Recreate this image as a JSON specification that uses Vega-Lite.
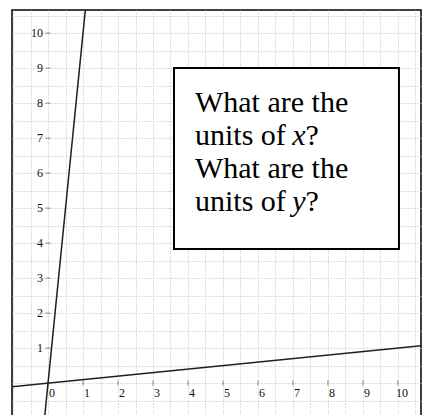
{
  "$schema": "https://vega.github.io/schema/vega-lite/v6.json",
  "width": 409,
  "height": 406,
  "autosize": {"type": "none"},
  "padding": {"left": 12, "top": 10, "right": 1, "bottom": 0},
  "config": {
    "view": {"stroke": "#000000", "strokeWidth": 1.5},
    "font": "Liberation Serif",
    "text": {"font": "Liberation Serif"}
  },
  "datasets": {
    "lines": [
      {"line": "steep", "x": -0.1, "y": -1},
      {"line": "steep", "x": 1.1, "y": 11},
      {"line": "shallow", "x": -1.1, "y": -0.11},
      {"line": "shallow", "x": 10.7, "y": 1.07}
    ],
    "xticks": [
      {"v": 0}, {"v": 1}, {"v": 2}, {"v": 3}, {"v": 4}, {"v": 5},
      {"v": 6}, {"v": 7}, {"v": 8}, {"v": 9}, {"v": 10}
    ],
    "yticks": [
      {"v": 1}, {"v": 2}, {"v": 3}, {"v": 4}, {"v": 5},
      {"v": 6}, {"v": 7}, {"v": 8}, {"v": 9}, {"v": 10}
    ],
    "note": [
      {"t": "What are the", "x": 4.2, "y": 7.74, "style": "normal"},
      {"t": "units of", "x": 4.2, "y": 6.8, "style": "normal"},
      {"t": "x", "x": 6.98, "y": 6.8, "style": "italic"},
      {"t": "?", "x": 7.36, "y": 6.8, "style": "normal"},
      {"t": "What are the", "x": 4.2, "y": 5.86, "style": "normal"},
      {"t": "units of", "x": 4.2, "y": 4.91, "style": "normal"},
      {"t": "y", "x": 6.98, "y": 4.91, "style": "italic"},
      {"t": "?", "x": 7.36, "y": 4.91, "style": "normal"}
    ],
    "box": [{"x": 3.6, "x2": 10.03, "y": 9.0, "y2": 3.83}]
  },
  "layer": [
    {
      "data": {"name": "lines"},
      "mark": {"type": "line", "clip": true, "strokeWidth": 0, "opacity": 0},
      "encoding": {
        "x": {
          "field": "x", "type": "quantitative",
          "scale": {"domain": [-1.03, 10.66], "nice": false, "zero": false},
          "axis": {
            "tickCount": 24,
            "grid": true, "gridDash": [1, 2], "gridColor": "#bdbdbd", "gridWidth": 1,
            "labels": false, "ticks": false, "domain": false, "title": null
          }
        },
        "y": {
          "field": "y", "type": "quantitative",
          "scale": {"domain": [-0.94, 10.66], "nice": false, "zero": false},
          "axis": {
            "tickCount": 24,
            "grid": true, "gridDash": [1, 2], "gridColor": "#bdbdbd", "gridWidth": 1,
            "labels": false, "ticks": false, "domain": false, "title": null
          }
        },
        "detail": {"field": "line"}
      }
    },
    {
      "mark": {"type": "rule", "color": "#8a8a8a", "strokeWidth": 1.5},
      "encoding": {"y": {"datum": 0, "type": "quantitative"}}
    },
    {
      "mark": {"type": "rule", "color": "#8a8a8a", "strokeWidth": 1.5},
      "encoding": {"x": {"datum": 0, "type": "quantitative"}}
    },
    {
      "data": {"name": "xticks"},
      "mark": {"type": "tick", "orient": "vertical", "size": 5, "thickness": 1, "color": "#555555"},
      "encoding": {
        "x": {"field": "v", "type": "quantitative"},
        "y": {"datum": 0, "type": "quantitative"}
      }
    },
    {
      "data": {"name": "yticks"},
      "mark": {"type": "tick", "orient": "horizontal", "size": 5, "thickness": 1, "color": "#555555"},
      "encoding": {
        "y": {"field": "v", "type": "quantitative"},
        "x": {"datum": 0, "type": "quantitative"}
      }
    },
    {
      "data": {"name": "xticks"},
      "mark": {"type": "text", "font": "Liberation Serif", "fontSize": 12, "color": "#111111", "align": "center", "baseline": "middle", "dx": 4, "dy": 10},
      "encoding": {
        "x": {"field": "v", "type": "quantitative"},
        "y": {"datum": 0, "type": "quantitative"},
        "text": {"field": "v", "type": "quantitative"}
      }
    },
    {
      "data": {"name": "yticks"},
      "mark": {"type": "text", "font": "Liberation Serif", "fontSize": 12, "color": "#111111", "align": "right", "baseline": "middle", "dx": -5},
      "encoding": {
        "y": {"field": "v", "type": "quantitative"},
        "x": {"datum": 0, "type": "quantitative"},
        "text": {"field": "v", "type": "quantitative"}
      }
    },
    {
      "data": {"name": "lines"},
      "mark": {"type": "line", "clip": true, "color": "#1e1e1e", "strokeWidth": 1.5},
      "encoding": {
        "x": {"field": "x", "type": "quantitative"},
        "y": {"field": "y", "type": "quantitative"},
        "detail": {"field": "line"}
      }
    },
    {
      "mark": {"type": "point", "shape": "triangle-up", "filled": true, "size": 40, "color": "#222222", "opacity": 1},
      "encoding": {
        "x": {"datum": 0, "type": "quantitative"},
        "y": {"datum": 10.57, "type": "quantitative"}
      }
    },
    {
      "mark": {"type": "text", "text": "y", "font": "Liberation Serif", "fontSize": 14, "fontStyle": "italic", "color": "#222222", "align": "center", "baseline": "middle"},
      "encoding": {
        "x": {"datum": 0.27, "type": "quantitative"},
        "y": {"datum": 10.43, "type": "quantitative"}
      }
    },
    {
      "data": {"name": "box"},
      "mark": {"type": "rect", "fill": "#ffffff", "stroke": "#000000", "strokeWidth": 2},
      "encoding": {
        "x": {"field": "x", "type": "quantitative"},
        "x2": {"field": "x2"},
        "y": {"field": "y", "type": "quantitative"},
        "y2": {"field": "y2"}
      }
    },
    {
      "data": {"name": "note"},
      "transform": [{"filter": "datum.style === 'normal'"}],
      "mark": {"type": "text", "font": "Liberation Serif", "fontSize": 30, "color": "#000000", "align": "left", "baseline": "alphabetic"},
      "encoding": {
        "x": {"field": "x", "type": "quantitative"},
        "y": {"field": "y", "type": "quantitative"},
        "text": {"field": "t"}
      }
    },
    {
      "data": {"name": "note"},
      "transform": [{"filter": "datum.style === 'italic'"}],
      "mark": {"type": "text", "font": "Liberation Serif", "fontSize": 30, "fontStyle": "italic", "color": "#000000", "align": "left", "baseline": "alphabetic"},
      "encoding": {
        "x": {"field": "x", "type": "quantitative"},
        "y": {"field": "y", "type": "quantitative"},
        "text": {"field": "t"}
      }
    }
  ]
}
